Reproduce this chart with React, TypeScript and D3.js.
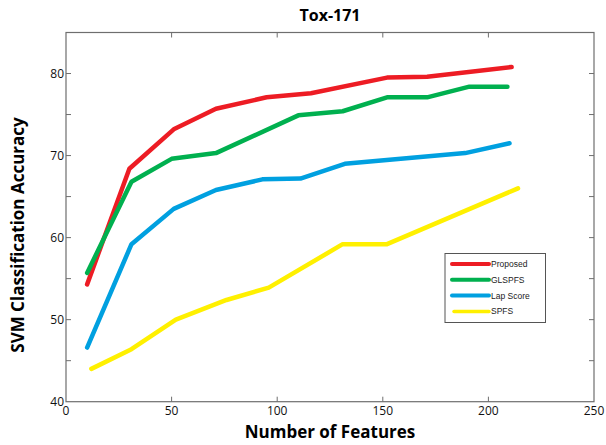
import React from "react";
import * as d3 from "d3";

const seriesNames = ["Proposed", "GLSPFS", "Lap Score", "SPFS"];
const seriesColors = ["#ed1c24", "#00b04f", "#00a0e0", "#fff000"];

const proposedX = [10, 30, 51, 71, 95, 116, 152, 171, 211];
const proposedY = [54.3, 68.4, 73.2, 75.7, 77.1, 77.6, 79.5, 79.6, 80.8];

const glspfsX = [10, 31, 50, 71, 110, 131, 152, 171, 191, 209];
const glspfsY = [55.7, 66.8, 69.6, 70.3, 74.9, 75.4, 77.1, 77.1, 78.4, 78.4];

const lapX = [10, 31, 51, 71, 93, 111, 132, 189, 210];
const lapY = [46.6, 59.2, 63.5, 65.8, 67.1, 67.2, 69.0, 70.3, 71.5];

const spfsX = [12, 31, 52, 76, 96, 131, 152, 214];
const spfsY = [44.0, 46.4, 50.0, 52.4, 53.9, 59.2, 59.2, 66.0];

const xTicks = [0, 50, 100, 150, 200, 250];
const yTicks = [40, 50, 60, 70, 80];
const yMinorTicks = [45, 55, 65, 75, 85];

const W = 606;
const H = 445;
const L = 66, R = 594, T = 32.5, B = 401.7;

export default function App() {
  const x = d3.scaleLinear().domain([0, 250]).range([L, R]);
  const y = d3.scaleLinear().domain([40, 85]).range([B, T]);
  const line = d3
    .line<[number, number]>()
    .x((d) => x(d[0]))
    .y((d) => y(d[1]));
  const data: [number, number][][] = [
    proposedX.map((v, i) => [v, proposedY[i]] as [number, number]),
    glspfsX.map((v, i) => [v, glspfsY[i]] as [number, number]),
    lapX.map((v, i) => [v, lapY[i]] as [number, number]),
    spfsX.map((v, i) => [v, spfsY[i]] as [number, number]),
  ];
  const axisColor = "#6e6e6e";
  const tickFont = "'Open Sans', sans-serif";
  const tl = 5;
  const legX = 445, legY = 253.5, legW = 100.5, legH = 69;
  return (
    <svg
      width={W}
      height={H}
      style={{ position: "absolute", left: 0, top: 0, background: "#fff" }}
    >
      <rect x={0} y={0} width={W} height={H} fill="#fff" />
      <text
        x={330}
        y={21}
        textAnchor="middle"
        fontFamily={tickFont}
        fontWeight="bold"
        fontSize={16}
        fill="#000"
      >
        Tox-171
      </text>
      {/* frame */}
      <rect
        x={L}
        y={T}
        width={R - L}
        height={B - T}
        fill="none"
        stroke={axisColor}
        strokeWidth={1.2}
      />
      {/* x ticks */}
      {xTicks.map((t) => (
        <g key={"xt" + t}>
          {t > 0 && t < 250 && (
            <>
              <line x1={x(t)} x2={x(t)} y1={B} y2={B - tl} stroke={axisColor} />
              <line x1={x(t)} x2={x(t)} y1={T} y2={T + tl} stroke={axisColor} />
            </>
          )}
          <text
            x={x(t)}
            y={415}
            textAnchor="middle"
            fontFamily={tickFont}
            fontSize={12}
            fill="#111"
          >
            {t}
          </text>
        </g>
      ))}
      {/* y ticks */}
      {[...yTicks, ...yMinorTicks].map((t) =>
        t > 40 && t < 85 ? (
          <g key={"yt" + t}>
            <line x1={L} x2={L + tl} y1={y(t)} y2={y(t)} stroke={axisColor} />
            <line x1={R} x2={R - tl} y1={y(t)} y2={y(t)} stroke={axisColor} />
          </g>
        ) : null
      )}
      {yTicks.map((t) => (
        <text
          key={"yl" + t}
          x={L - 2}
          y={y(t) + 4.5}
          textAnchor="end"
          fontFamily={tickFont}
          fontSize={12}
          fill="#111"
        >
          {t}
        </text>
      ))}
      <text
        x={330}
        y={438}
        textAnchor="middle"
        fontFamily={tickFont}
        fontWeight="bold"
        fontSize={17}
        fill="#000"
      >
        Number of Features
      </text>
      <text
        transform={`translate(24,235) rotate(-90)`}
        textAnchor="middle"
        fontFamily={tickFont}
        fontWeight="bold"
        fontSize={17}
        fill="#000"
      >
        SVM Classification Accuracy
      </text>
      {/* lines */}
      {data.map((d, i) => (
        <path
          key={seriesNames[i]}
          d={line(d) || ""}
          fill="none"
          stroke={seriesColors[i]}
          strokeWidth={4.5}
          strokeLinecap="round"
          strokeLinejoin="round"
        />
      ))}
      {/* legend */}
      <rect
        x={legX}
        y={legY}
        width={legW}
        height={legH}
        fill="#fff"
        stroke="#555"
        strokeWidth={1}
      />
      {seriesNames.map((n, i) => {
        const yy = legY + 10.5 + i * 15.8;
        return (
          <g key={"leg" + n}>
            <line
              x1={i === 3 ? legX + 9 : legX + 7}
              x2={legX + 44}
              y1={yy}
              y2={yy}
              stroke={seriesColors[i]}
              strokeWidth={i === 3 ? 3.5 : 4}
              strokeLinecap="round"
            />
            <text
              x={legX + 46}
              y={yy + 3}
              fontFamily="'Liberation Sans', Arial, sans-serif"
              fontSize={8.5}
              fill="#222"
            >
              {n}
            </text>
          </g>
        );
      })}
    </svg>
  );
}
